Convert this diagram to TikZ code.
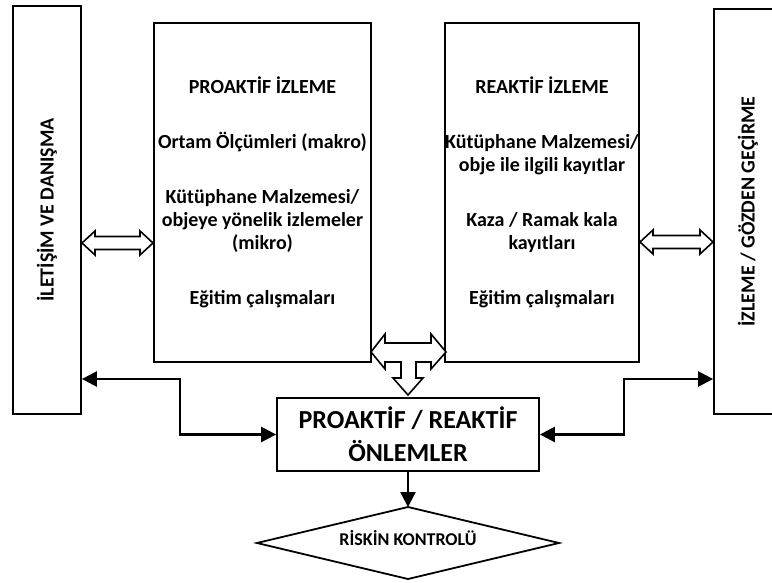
\documentclass[tikz,border=0pt]{standalone}
\usepackage{fontspec}
\setmainfont{Carlito}
\usetikzlibrary{arrows.meta}
\begin{document}
\begin{tikzpicture}[x=1pt,y=-1pt,
  box/.style={draw,line width=1.8pt,inner sep=0pt,align=center,font=\fontsize{20}{23}\selectfont\bfseries},
  vtext/.style={rotate=90,font=\fontsize{20}{23}\selectfont\bfseries,inner sep=0pt},
  conn/.style={line width=2.6pt,{Triangle[length=15pt,width=15pt]}-{Triangle[length=15pt,width=15pt]}},
  downconn/.style={line width=2.6pt,-{Triangle[length=15pt,width=15pt]}},
  blockarrow/.style={draw,fill=white,line width=1.6pt,line join=miter},
  diamondline/.style={draw,line width=1.8pt,line join=miter}]
\useasboundingbox (0,0) rectangle (772,583);

% side boxes
\node[box, minimum width=68pt, minimum height=408pt] (lb) at (47,210) {};
\node[vtext] (lbt) at (lb.center) {İLETİŞİM VE DANIŞMA};
\node[box, minimum width=68pt, minimum height=405pt] (rb) at (748,211.5) {};
\node[vtext] (rbt) at (rb.center) {İZLEME / GÖZDEN GEÇİRME};

% main boxes
\node[box, minimum width=217pt, minimum height=339pt] (pro) at (262.5,192.5)
 {PROAKTİF İZLEME\\[32pt]Ortam Ölçümleri (makro)\\[32pt]Kütüphane Malzemesi/\\objeye yönelik izlemeler\\(mikro)\\[32pt]Eğitim çalışmaları};
\node[box, minimum width=194pt, minimum height=339pt] (rea) at (542,192.5)
 {REAKTİF İZLEME\\[32pt]Kütüphane Malzemesi/\\obje ile ilgili kayıtlar\\[32pt]Kaza / Ramak kala\\kayıtları\\[32pt]Eğitim çalışmaları};

% bottom box
\node[box, minimum width=262pt, minimum height=73pt, font=\fontsize{26}{33}\selectfont\bfseries] (bot) at (408,434.5)
 {PROAKTİF / REAKTİF\\ÖNLEMLER};

% diamond
\coordinate (diatop) at (408,507);
\coordinate (dialeft) at (257,543);
\coordinate (diaright) at (559,543);
\coordinate (diabottom) at (408,579);
\draw[diamondline] (dialeft) -- (diatop) -- (diaright) -- (diabottom) -- cycle;
\node[font=\fontsize{18}{20}\selectfont\bfseries, inner sep=0pt] (dia) at (408,538) {RİSKİN KONTROLÜ};

% connectors
\coordinate (cl) at (180,379);
\coordinate (cr) at (624,379);
\draw[conn] (lb.east|-cl) -- (cl) |- (bot.west);
\draw[conn] (rb.west|-cr) -- (cr) |- (bot.east);
\draw[downconn] (bot.south) -- (diatop);

% hollow block arrows
\draw[blockarrow] (82,243) -- (95,231) -- (95,236.5) -- (140,236.5) -- (140,231) -- (153,243)
  -- (140,255) -- (140,249.5) -- (95,249.5) -- (95,255) -- cycle;
\draw[blockarrow] (640,242) -- (653,230) -- (653,235.5) -- (700,235.5) -- (700,230) -- (713,242)
  -- (700,254) -- (700,248.5) -- (653,248.5) -- (653,254) -- cycle;
\draw[blockarrow] (371,352) -- (385,334) -- (385,343) -- (431,343) -- (431,334) -- (446,352)
  -- (431,369) -- (431,362) -- (416,362) -- (416,378) -- (423,378) -- (408,395) -- (393,378)
  -- (401,378) -- (401,362) -- (385,362) -- (385,369) -- cycle;
\end{tikzpicture}
\end{document}
